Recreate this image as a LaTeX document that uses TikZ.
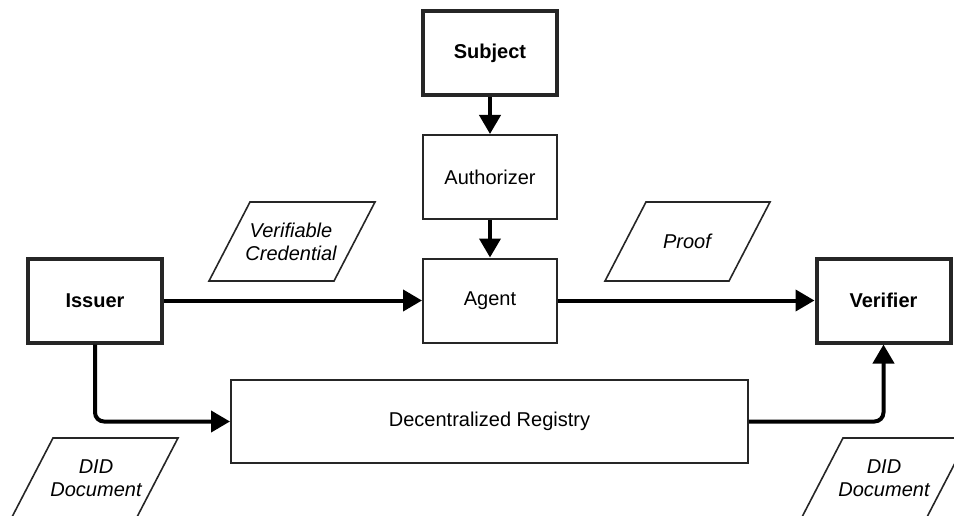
\documentclass[tikz,border=0pt]{standalone}
\usepackage{fontspec}
\setmainfont{Liberation Sans}
\usetikzlibrary{arrows.meta}
\begin{document}
\begin{tikzpicture}[x=1pt,y=-1pt,
  every node/.style={font=\fontsize{20}{23}\selectfont, align=center},
  role/.style={draw=black!85, line width=4pt, minimum width=134pt, minimum height=84pt, inner sep=0pt, font=\fontsize{20}{23}\selectfont\bfseries},
  part/.style={draw=black!85, line width=2pt, minimum width=134pt, minimum height=84pt, inner sep=0pt},
  doc/.style={draw=black!85, line width=1.6pt, line join=miter},
  doclabel/.style={font=\fontsize{20}{23}\selectfont\itshape, inner sep=0pt},
  flow/.style={line width=4pt, black, -{Triangle[length=19pt,width=21pt]}, rounded corners=9pt}
]
\useasboundingbox (0,0) rectangle (954,516);

% boxes
\node[role] (subject) at (490,53) {Subject};
\node[part] (authorizer) at (490,177) {Authorizer};
\node[part] (agent) at (490,300.5) {Agent};
\node[role] (issuer) at (95,300.5) {Issuer};
\node[role] (verifier) at (883.5,300.5) {Verifier};
\node[part, minimum width=517pt, minimum height=83pt] (registry) at (489.5,421.5) {Decentralized Registry};

% data parallelograms
\draw[doc] (250,202) -- (375,202) -- (334,281) -- (209,281) -- cycle;
\node[doclabel] (vc) at (291,242) {Verifiable\\Credential};
\draw[doc] (646,202) -- (770,202) -- (729,281) -- (605,281) -- cycle;
\node[doclabel] (proof) at (687,241) {Proof};
\draw[doc] (53,438) -- (178,438) -- (137,517) -- (12,517) -- cycle;
\node[doclabel] (didl) at (96,478) {DID\\Document};
\draw[doc] (843,438) -- (968,438) -- (927,517) -- (802,517) -- cycle;
\node[doclabel] (didr) at (884,478) {DID\\Document};

% flows
\draw[flow] (subject) -- (authorizer);
\draw[flow] (authorizer) -- (agent);
\draw[flow] (issuer) -- (agent);
\draw[flow] (agent) -- (verifier);
\draw[flow] (issuer.south) |- (registry.west);
\draw[flow] (registry.east) -| (verifier.south);
\end{tikzpicture}
\end{document}
